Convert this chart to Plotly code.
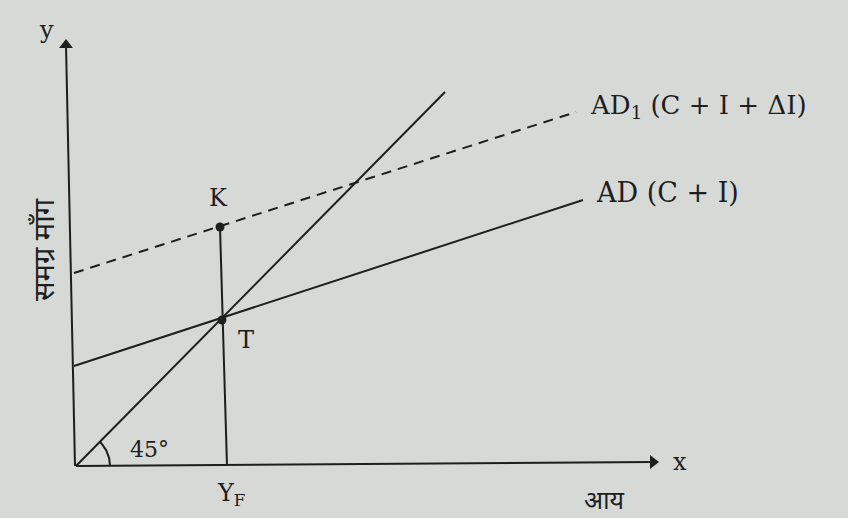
import numpy as np
import plotly.graph_objects as go

# Income (x) and aggregate demand (y) values, origin at the axes corner
income_45 = [0, 369]
demand_45 = [0, 374]

income_ad = [-2, 507]
demand_ad = [100, 266]

income_ad1 = [-2, 500]
demand_ad1 = [193, 354]

# Points K and T, and the full-employment income Y_F
point_names = ["K", "T"]
point_income = [144, 146]
point_demand = [239, 146]
yf_income = [144, 151]
yf_demand = [239, 0]

# Axes drawn as lines (the scan is slightly tilted)
yaxis_x = [-1, -10]
yaxis_y = [0, 421]
xaxis_x = [0, 577]
xaxis_y = [0, 4]

INK = "#1e1e1e"
BG = "#d7d9d6"
SERIF = "DejaVu Serif, Liberation Serif, serif"
HINDI = "Noto Sans, Noto Sans Devanagari, sans-serif"

fig = go.Figure()


def add_line(xs, ys, dash="solid"):
    fig.add_trace(go.Scatter(
        x=xs, y=ys, mode="lines",
        line=dict(color=INK, width=2, dash=dash),
        hoverinfo="skip", showlegend=False,
    ))


add_line(income_45, demand_45)
add_line(income_ad, demand_ad)
add_line(income_ad1, demand_ad1, dash="10px,7px")
add_line(yf_income, yf_demand)
add_line(yaxis_x, yaxis_y)
add_line(xaxis_x, xaxis_y)

# 45 degree arc at the origin
theta = np.linspace(0, np.pi / 4, 20)
add_line(list(34 * np.cos(theta)), list(34 * np.sin(theta)))

# Points K and T
fig.add_trace(go.Scatter(
    x=point_income, y=point_demand, mode="markers",
    marker=dict(color=INK, size=9),
    hoverinfo="skip", showlegend=False,
))

# Arrow heads at the axis ends
fig.add_trace(go.Scatter(
    x=[yaxis_x[1], xaxis_x[1]], y=[yaxis_y[1], xaxis_y[1]], mode="markers",
    marker=dict(color=INK, size=12, symbol=["triangle-up", "triangle-right"]),
    hoverinfo="skip", showlegend=False,
))


def label(x, y, text, size=24, anchor="center", angle=0, family=SERIF):
    fig.add_annotation(x=x, y=y, xref="x", yref="y", text=text, showarrow=False,
                       xanchor=anchor, textangle=angle,
                       font=dict(family=family, size=size, color=INK))


label(-30, 436, "y")
label(604, 4, "x")
label(142, 268, "K")
label(170, 126, "T")
label(73, 17, "45°", size=22)
label(155, -28, "Y<sub>F</sub>")
label(528, -33, "आय", size=25, family=HINDI)
label(-34, 216, "समग्र माँग", size=29, angle=-90, family=HINDI)
label(512, 360, "AD<sub>1</sub> (C + I + ΔI)", size=26, anchor="left")
label(518, 274, "AD (C + I)", size=27, anchor="left")

fig.update_layout(
    width=848, height=518,
    margin=dict(l=0, r=0, t=0, b=0),
    paper_bgcolor=BG, plot_bgcolor=BG,
    xaxis=dict(range=[-76, 772], visible=False, fixedrange=True),
    yaxis=dict(range=[-52, 466], visible=False, fixedrange=True),
)

fig.write_html("out.html", config={"displayModeBar": False},
               post_script="document.body.style.margin='0';")
